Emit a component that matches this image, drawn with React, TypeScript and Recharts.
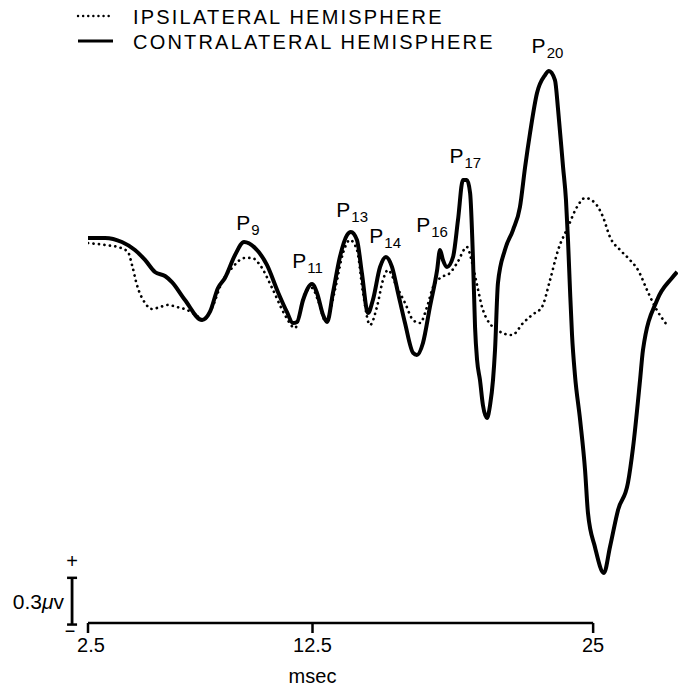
import React from 'react';
import { LineChart, Line, XAxis, YAxis, ReferenceLine, ReferenceDot } from 'recharts';

// Contralateral hemisphere (solid) — time in msec, amplitude in μV
const SOLID_T = [2.5, 3.26, 4.01, 4.59, 5.04, 5.48, 5.93, 6.24, 6.82, 7.58, 7.93, 8.29, 8.6, 9.05, 9.45, 9.94, 10.47, 10.96, 11.36, 11.63, 11.81, 12.08, 12.48, 12.7, 12.97, 13.15, 13.41, 13.72, 14.04, 14.21, 14.48, 14.7, 14.97, 15.19, 15.51, 15.77, 16.04, 16.31, 16.62, 16.98, 17.15, 17.42, 17.73, 18.05, 18.18, 18.31, 18.49, 18.76, 18.98, 19.2, 19.38, 19.52, 19.65, 19.74, 19.83, 19.96, 20.09, 20.27, 20.41, 20.54, 20.63, 20.76, 21.07, 21.43, 21.74, 21.97, 22.19, 22.5, 22.86, 23.03, 23.3, 23.44, 23.66, 23.79, 23.88, 23.97, 24.06, 24.19, 24.42, 24.64, 24.77, 25.08, 25.48, 25.75, 26.11, 26.55, 26.78, 27.09, 27.22, 27.85, 28.51, 28.74];
const SOLID_V = [0.072, 0.072, 0.046, -0.005, -0.069, -0.146, -0.172, -0.211, -0.326, -0.455, -0.403, -0.249, -0.185, -0.037, 0.046, 0.008, -0.101, -0.275, -0.403, -0.474, -0.467, -0.326, -0.223, -0.281, -0.422, -0.467, -0.281, -0.05, 0.091, 0.11, 0.059, -0.153, -0.41, -0.326, -0.114, -0.05, -0.114, -0.281, -0.474, -0.666, -0.679, -0.602, -0.371, -0.134, -0.005, -0.069, -0.114, -0.05, 0.187, 0.444, 0.444, 0.361, -0.069, -0.5, -0.711, -0.84, -1.0, -1.084, -1.0, -0.84, -0.647, -0.217, -0.005, 0.123, 0.271, 0.528, 0.746, 1.003, 1.118, 1.144, 1.086, 0.894, 0.528, 0.316, 0.059, -0.262, -0.551, -0.808, -1.097, -1.418, -1.694, -1.912, -2.079, -1.912, -1.674, -1.501, -1.27, -0.84, -0.647, -0.326, -0.185, -0.146];

// Ipsilateral hemisphere (dotted)
const DOTTED_T = [2.5, 3.26, 3.84, 4.28, 4.46, 4.68, 5.04, 5.35, 5.71, 6.06, 6.46, 6.91, 7.36, 7.62, 8.02, 8.47, 8.91, 9.49, 9.8, 10.16, 10.7, 11.27, 11.72, 12.17, 12.48, 12.74, 13.1, 13.5, 13.86, 14.17, 14.48, 14.75, 15.06, 15.37, 15.64, 15.86, 16.26, 16.62, 16.98, 17.29, 17.6, 17.87, 18.18, 18.62, 18.94, 19.38, 19.6, 19.83, 20.09, 20.72, 21.39, 21.88, 22.28, 22.72, 23.08, 23.44, 23.88, 24.28, 24.64, 25.08, 25.44, 25.75, 26.2, 26.64, 27.0, 27.4, 27.76, 28.29];
const DOTTED_V = [0.04, 0.027, 0.014, -0.018, -0.101, -0.23, -0.345, -0.384, -0.371, -0.358, -0.371, -0.39, -0.429, -0.455, -0.378, -0.211, -0.121, -0.056, -0.056, -0.101, -0.249, -0.422, -0.506, -0.281, -0.249, -0.326, -0.467, -0.262, -0.024, 0.059, -0.005, -0.281, -0.487, -0.371, -0.198, -0.134, -0.243, -0.345, -0.455, -0.474, -0.371, -0.243, -0.185, -0.153, -0.089, 0.014, -0.082, -0.23, -0.39, -0.519, -0.551, -0.474, -0.422, -0.371, -0.198, -0.005, 0.143, 0.271, 0.329, 0.297, 0.207, 0.078, -0.005, -0.069, -0.134, -0.262, -0.371, -0.487];

// Peak labels (subscript, label anchor time, label anchor amplitude)
const PEAK_SUBS = ['9', '11', '13', '14', '16', '17', '20'];
const PEAK_T = [9.1, 11.6, 13.56, 15.03, 17.12, 18.6, 22.26];
const PEAK_V = [0.123, -0.121, 0.207, 0.04, 0.11, 0.553, 1.26];

const X_TICKS = [2.5, 12.5, 25];
const X_DOMAIN = [2.5, 28.78];
const Y_DOMAIN = [-2.4, 1.6];
const SERIES_NAMES = ['IPSILATERAL HEMISPHERE', 'CONTRALATERAL HEMISPHERE'];
const SCALE_BAR = { t: 1.79, low: -2.41, high: -2.11, label: '0.3', unit: '\u03BCv' };

const solidData = SOLID_T.map((t, i) => ({ t, v: SOLID_V[i] }));
const dottedData = DOTTED_T.map((t, i) => ({ t, v: DOTTED_V[i] }));
const peaks = PEAK_SUBS.map((s, i) => ({ s, t: PEAK_T[i], v: PEAK_V[i] }));

const FONT = '"Liberation Sans", Arial, Helvetica, sans-serif';

const PeakLabel = (props: any, sub: string) => (
  <text x={props.cx} y={props.cy} fontFamily={FONT} fontSize={21} fill="#000">
    P<tspan fontSize={15} dx={1} dy={5}>{sub}</tspan>
  </text>
);

const XTick = (props: any) => {
  const { x, y, payload, index } = props;
  const shift = index === 0 ? 3 : 0;
  return (
    <text x={x + shift} y={y} dy="0.71em" textAnchor="middle" fontFamily={FONT} fontSize={20} fill="#000">
      {payload.value}
    </text>
  );
};

const ScaleBarShape = (props: any) => {
  const { x1, y1, y2 } = props;
  const top = Math.min(y1, y2);
  const bot = Math.max(y1, y2);
  return (
    <g fontFamily={FONT} fill="#000">
      <line x1={x1} y1={top} x2={x1} y2={bot} stroke="#000" strokeWidth={2.8} />
      <line x1={x1 - 5} y1={top} x2={x1 + 5} y2={top} stroke="#000" strokeWidth={2.5} />
      <line x1={x1 - 5} y1={bot} x2={x1 + 5} y2={bot} stroke="#000" strokeWidth={2.5} />
      <text x={x1} y={top - 10} textAnchor="middle" fontSize={20}>+</text>
      <text x={x1 - 2} y={bot + 12} textAnchor="middle" fontSize={18}>{'\u2212'}</text>
      <text x={x1 - 8} y={(top + bot) / 2 + 8} textAnchor="end" fontSize={21}>
        {SCALE_BAR.label}<tspan fontStyle="italic">{SCALE_BAR.unit.charAt(0)}</tspan>{SCALE_BAR.unit.slice(1)}
      </text>
    </g>
  );
};

const LegendOverlay = () => (
  <svg width={684} height={60} style={{ position: 'absolute', left: 0, top: 0 }}>
    {SERIES_NAMES.map((name, i) => (
      <g key={name}>
        <line x1={78} x2={113} y1={16 + i * 25} y2={16 + i * 25} stroke="#000"
          strokeWidth={i === 0 ? 2.4 : 3}
          strokeDasharray={i === 0 ? '0.1 5' : undefined}
          strokeLinecap={i === 0 ? 'round' : 'butt'} />
        <text x={133} y={23.5 + i * 25} fontFamily={FONT} fontSize={20} letterSpacing={2.2} fill="#000">{name}</text>
      </g>
    ))}
  </svg>
);

export default function App() {
  return (
    <div style={{ position: 'absolute', left: 0, top: 0, width: 684, height: 695, background: '#fff' }}>
      <LineChart width={684} height={695} margin={{ top: 0, right: 6, bottom: 0, left: 88 }}>
        <XAxis
          type="number"
          dataKey="t"
          domain={X_DOMAIN}
          ticks={X_TICKS}
          allowDataOverflow
          height={72}
          axisLine={false}
          tickLine={{ stroke: '#000', strokeWidth: 2.5 }}
          tickSize={10}
          tickMargin={5}
          tick={XTick}
          interval={0}
        />
        <YAxis type="number" domain={Y_DOMAIN} hide allowDataOverflow />
        <ReferenceLine
          segment={[{ x: X_TICKS[0], y: Y_DOMAIN[0] }, { x: X_TICKS[2], y: Y_DOMAIN[0] }]}
          stroke="#000" strokeWidth={2.5} ifOverflow="visible"
        />
        <ReferenceLine
          segment={[{ x: SCALE_BAR.t, y: SCALE_BAR.low }, { x: SCALE_BAR.t, y: SCALE_BAR.high }]}
          ifOverflow="visible"
          shape={ScaleBarShape}
        />
        <Line data={dottedData} dataKey="v" type="monotone" stroke="#000" strokeWidth={2.7}
          strokeDasharray="0.1 5.4" strokeLinecap="round" dot={false} isAnimationActive={false} />
        <Line data={solidData} dataKey="v" type="monotone" stroke="#000" strokeWidth={4}
          dot={false} isAnimationActive={false} />
        {peaks.map((p) => (
          <ReferenceDot key={p.s} x={p.t} y={p.v} r={0} ifOverflow="visible"
            shape={(props: any) => PeakLabel(props, p.s)} />
        ))}
        <ReferenceDot x={X_TICKS[1]} y={Y_DOMAIN[0]} r={0} ifOverflow="visible"
          shape={(props: any) => (
            <text x={props.cx} y={props.cy + 60} textAnchor="middle" fontFamily={FONT} fontSize={20} fill="#000">msec</text>
          )} />
      </LineChart>
      <LegendOverlay />
    </div>
  );
}
